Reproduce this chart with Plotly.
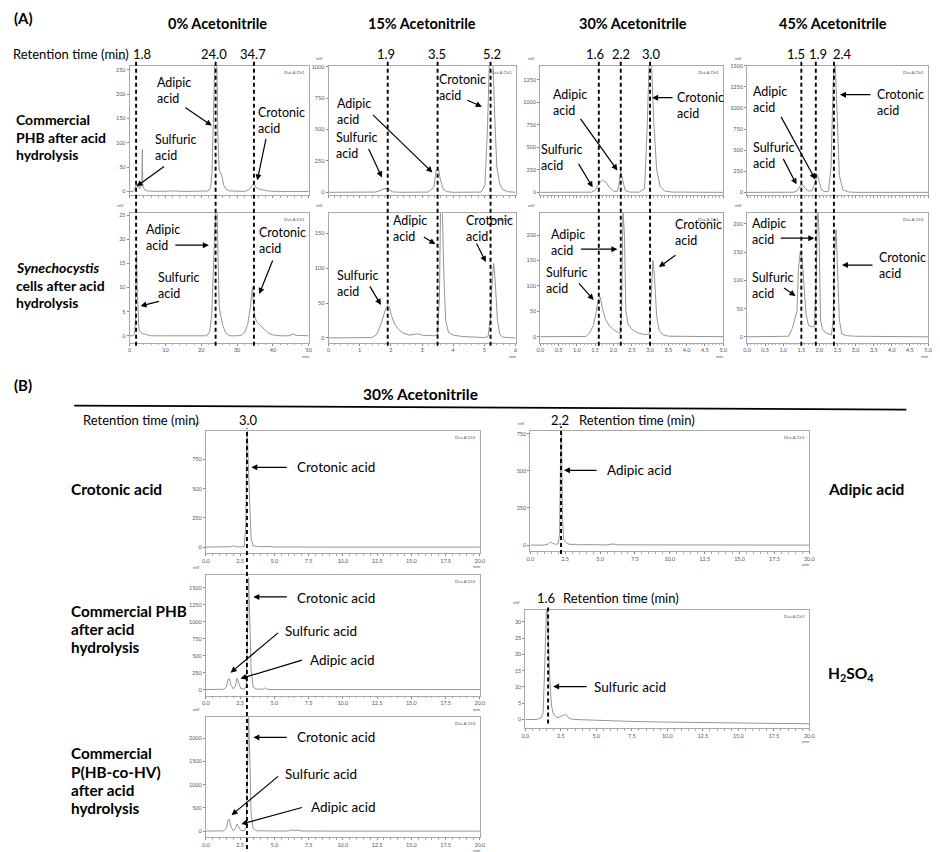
import plotly.graph_objects as go

W, H = 940, 852

# ================= DATA (retention time in min, detector signal in mV) =================
# Panel A, row 1: commercial PHB after acid hydrolysis
phb0_t = [0, 1.0, 1.4, 1.7, 1.9, 2.2, 2.5, 2.8, 3.1, 3.4, 3.55, 3.65, 3.8, 4.2, 5.0, 8, 12, 16, 20,
          22.0, 22.6, 23.0, 23.4, 23.7, 24.0, 24.3, 24.6, 25.0, 25.4, 25.8, 26.3, 27.0, 28.0, 30, 32,
          33.2, 34.0, 34.5, 34.8, 35.3, 36, 37, 38.5, 41, 45, 50]
phb0_mv = [0, 0, 4, 14, 16, 8, 12, 6, 10, 20, 86, 20, 8, 3, 1, 0, 1, 0, 0,
           1, 8, 40, 150, 300, 340, 300, 120, 45, 38, 30, 12, 4, 1, 0, 0,
           3, 10, 15, 14, 8, 5, 3, 1, 0, 0, 0]

phb15_t = [0, 0.5, 1.0, 1.5, 1.65, 1.78, 1.88, 1.95, 2.05, 2.3, 2.8, 3.2, 3.38, 3.45, 3.52, 3.58,
           3.68, 3.8, 4.0, 4.5, 4.9, 5.02, 5.1, 5.18, 5.25, 5.32, 5.4, 5.5, 5.6, 5.75, 6.0]
phb15_mv = [0, 0, 0, 2, 12, 28, 30, 18, 4, 0, 0, 2, 40, 170, 200, 110,
            25, 5, 0, 0, 2, 60, 500, 1200, 1250, 700, 200, 60, 20, 5, 0]

phb30_t = [0, 0.5, 1.0, 1.4, 1.5, 1.6, 1.7, 1.8, 1.9, 2.0, 2.1, 2.15, 2.2, 2.25, 2.32, 2.45, 2.7,
           2.85, 2.92, 2.98, 3.04, 3.1, 3.18, 3.28, 3.4, 3.6, 4.0, 5.0]
phb30_mv = [0, 0, 0, 2, 25, 95, 135, 110, 50, 15, 10, 80, 230, 150, 20, 3, 2,
            40, 700, 1500, 1450, 800, 250, 60, 15, 3, 0, 0]

phb45_t = [0, 0.5, 1.0, 1.3, 1.4, 1.47, 1.53, 1.6, 1.7, 1.8, 1.88, 1.94, 2.0, 2.06, 2.15, 2.25,
           2.32, 2.38, 2.43, 2.48, 2.55, 2.65, 2.8, 3.0, 4.0, 5.0]
phb45_mv = [0, 0, 0, 2, 25, 80, 92, 50, 15, 20, 120, 210, 120, 25, 8, 15,
            300, 1300, 1600, 900, 200, 30, 5, 0, 0, 0]

# Panel A, row 2: Synechocystis cells after acid hydrolysis
syn0_t = [0, 1.0, 1.4, 1.6, 1.8, 1.95, 2.1, 2.25, 2.4, 2.6, 3.0, 3.5, 4.5, 6, 10, 15, 20, 21.5,
          22.3, 22.9, 23.4, 23.8, 24.1, 24.4, 24.7, 25.0, 25.5, 26.0, 26.8, 28, 30, 31.2, 32.2,
          33.0, 33.7, 34.1, 34.3, 34.6, 35.0, 35.6, 36.5, 37.5, 38.5, 39.8, 42, 44.5, 45.5, 46.5, 50]
syn0_mv = [0, 0, 0.5, 3, 14, 17.3, 10, 7, 3, 1.2, 0.8, 0.5, 0.3, 0, 0, 0, 0, 0,
           0.8, 4, 14, 24, 28, 26, 14, 6, 4, 2.2, 0.6, 0, 0, 0.1, 0.8,
           2.5, 6, 9, 10.1, 6, 3.8, 2.8, 2.2, 1.4, 0.7, 0.2, 0, 0, 0.35, 0.1, 0]

syn15_t = [0, 1.0, 1.4, 1.55, 1.7, 1.82, 1.9, 1.95, 2.02, 2.12, 2.25, 2.4, 2.6, 2.75, 2.85, 3.0,
           3.2, 3.4, 3.5, 3.56, 3.6, 3.65, 3.7, 3.76, 3.85, 4.0, 4.3, 4.6, 5.0, 5.12, 5.2, 5.26,
           5.3, 5.35, 5.42, 5.5, 5.6, 6.0]
syn15_mv = [0, 0, 0.5, 5, 22, 40, 47, 45, 32, 20, 12, 7, 4, 5, 6, 4,
            3, 3, 5, 60, 200, 190, 90, 25, 8, 4, 2, 1, 0.5, 2, 30, 90,
            107, 80, 25, 5, 1, 0]

syn30_t = [0, 1.0, 1.25, 1.35, 1.45, 1.52, 1.58, 1.64, 1.7, 1.78, 1.88, 2.0, 2.1, 2.18, 2.22,
           2.26, 2.3, 2.34, 2.4, 2.5, 2.65, 2.85, 2.98, 3.03, 3.08, 3.12, 3.18, 3.25, 3.35, 3.5,
           4.0, 5.0]
syn30_mv = [0, 0, 0.5, 8, 22, 45, 72, 78, 55, 35, 22, 14, 10, 6, 40,
            250, 200, 50, 25, 15, 8, 4, 5, 80, 150, 120, 40, 12, 4, 1,
            0.5, 0]

syn45_t = [0, 1.0, 1.15, 1.25, 1.32, 1.38, 1.42, 1.47, 1.52, 1.57, 1.63, 1.7, 1.78, 1.86, 1.91,
           1.95, 1.99, 2.03, 2.08, 2.15, 2.25, 2.33, 2.38, 2.42, 2.46, 2.5, 2.55, 2.62, 2.75, 3.0,
           4.0, 5.0]
syn45_mv = [0, 0, 1, 15, 32, 45, 120, 150, 140, 90, 40, 20, 18, 18, 100,
            240, 180, 30, 15, 8, 5, 3, 30, 150, 190, 110, 30, 5, 2, 1,
            0.5, 0]

# Panel B (30% acetonitrile): standards and hydrolysed polymers
crot_std_t = [0, 1.0, 1.8, 2.0, 2.2, 2.8, 2.92, 2.98, 3.03, 3.1, 3.2, 3.3, 3.45, 4.0, 4.5, 5.0, 10, 15, 20]
crot_std_mv = [0, 0, 3, 12, 2, 2, 200, 900, 1000, 700, 300, 80, 10, 3, 6, 1, 0, 0, 0]

adip_std_t = [0, 1.0, 1.3, 1.45, 1.6, 1.8, 2.0, 2.1, 2.18, 2.24, 2.3, 2.38, 2.5, 2.7, 3.0, 3.2,
              3.5, 4.0, 4.5, 5.5, 5.9, 6.3, 7.2, 9.8, 10.5, 11.5, 15, 20]
adip_std_mv = [0, 0, 8, 20, 12, 5, 10, 80, 700, 760, 200, 40, 25, 8, 4, 6,
               2, 4, 3, 1, 8, 2, 2, 0, 2, 0, 0, 0]

phb_b_t = [0, 0.9, 1.3, 1.5, 1.62, 1.72, 1.85, 2.0, 2.15, 2.28, 2.4, 2.55, 2.8, 2.95, 3.05, 3.12,
           3.2, 3.3, 3.45, 3.7, 4.2, 4.3, 4.45, 5, 10, 20]
phb_b_mv = [0, 0, 5, 40, 150, 160, 60, 10, 50, 170, 90, 15, 5, 50, 900, 1650,
            1100, 300, 40, 5, 8, 25, 5, 0, 0, 0]

phbv_b_t = [0, 0.9, 1.3, 1.5, 1.62, 1.72, 1.85, 2.0, 2.15, 2.28, 2.4, 2.55, 2.8, 2.95, 3.05, 3.12,
            3.2, 3.3, 3.45, 3.7, 5.0, 6.0, 6.3, 6.5, 6.7, 7, 10, 20]
phbv_b_mv = [0, 0, 5, 60, 240, 250, 80, 10, 50, 150, 80, 15, 5, 80, 1400, 2450,
             1700, 400, 60, 8, 3, 2, 25, 10, 20, 2, 0, 0]

h2so4_t = [0, 0.8, 1.1, 1.25, 1.32, 1.4, 1.48, 1.55, 1.62, 1.7, 1.78, 1.85, 1.95, 2.1, 2.3, 2.6,
           2.75, 2.9, 3.1, 3.5, 5.0, 7.5, 10, 12.5, 15, 17.5, 20]
h2so4_mv = [0, 0, 0.5, 2, 11, 22, 33, 34, 20, 14, 8, 4, 2, 1, 0.5, 1.2,
            1.5, 1.3, 0.3, 0, -0.3, -0.6, -0.8, -1.0, -1.1, -1.2, -1.3]

# Titles and retention times
acn_titles = ["0% Acetonitrile", "15% Acetonitrile", "30% Acetonitrile", "45% Acetonitrile"]
rt_A = [[1.8, 24.0, 34.7], [1.9, 3.5, 5.2], [1.6, 2.2, 3.0], [1.5, 1.9, 2.4]]
rt_B_crot, rt_B_adip, rt_B_sulf = 3.0, 2.2, 1.6

# ================= LAYOUT / STYLE =================
FONT = "Lato"
def px(x): return x / W
def py(y): return 1 - y / H

colsA = [(127, 308), (328, 517), (542, 727), (751, 934)]
rowA_top, rowA_bot = (63, 193), (211, 341)

panels = [
    dict(t=phb0_t, v=phb0_mv, box=(*colsA[0], *rowA_top), xr=[0, 50], yr=[-8, 258], xd=10, yd=50, xl=False, fmt=""),
    dict(t=phb15_t, v=phb15_mv, box=(*colsA[1], *rowA_top), xr=[0, 6], yr=[-24, 1008], xd=1, yd=250, xl=False, fmt=""),
    dict(t=phb30_t, v=phb30_mv, box=(*colsA[2], *rowA_top), xr=[0, 5], yr=[-33, 1404], xd=0.5, yd=250, xl=False, fmt=".1f"),
    dict(t=phb45_t, v=phb45_mv, box=(*colsA[3], *rowA_top), xr=[0, 5], yr=[-35, 1500], xd=0.5, yd=250, xl=False, fmt=".1f"),
    dict(t=syn0_t, v=syn0_mv, box=(*colsA[0], *rowA_bot), xr=[0, 50], yr=[-1.45, 25.4], xd=10, yd=5, xl=True, fmt=""),
    dict(t=syn15_t, v=syn15_mv, box=(*colsA[1], *rowA_bot), xr=[0, 6], yr=[-7, 179], xd=1, yd=50, xl=True, fmt=""),
    dict(t=syn30_t, v=syn30_mv, box=(*colsA[2], *rowA_bot), xr=[0, 5], yr=[-12, 243], xd=0.5, yd=50, xl=True, fmt=".1f"),
    dict(t=syn45_t, v=syn45_mv, box=(*colsA[3], *rowA_bot), xr=[0, 5], yr=[-10.6, 219], xd=0.5, yd=50, xl=True, fmt=".1f"),
    dict(t=crot_std_t, v=crot_std_mv, box=(204, 481, 430, 552), xr=[0, 20], yr=[-51, 989], xd=2.5, yd=250, xl=True, fmt=".1f"),
    dict(t=phb_b_t, v=phb_b_mv, box=(204, 481, 574, 695), xr=[0, 20], yr=[-88, 1691], xd=2.5, yd=250, xl=True, fmt=".1f"),
    dict(t=phbv_b_t, v=phbv_b_mv, box=(204, 481, 717, 837), xr=[0, 20], yr=[-128, 2447], xd=2.5, yd=500, xl=True, fmt=".1f"),
    dict(t=adip_std_t, v=adip_std_mv, box=(532, 814, 430, 550), xr=[0, 20], yr=[-40, 764], xd=2.5, yd=250, xl=True, fmt=".1f"),
    dict(t=h2so4_t, v=h2so4_mv, box=(527, 814, 609, 728), xr=[0, 20], yr=[-2.75, 33.7], xd=2.5, yd=5, xl=True, fmt=".1f"),
]

fig = go.Figure()
annotations = []
shapes = []
tickfont = dict(family=FONT, size=5.5, color="#555")

for i, p in enumerate(panels, start=1):
    sfx = "" if i == 1 else str(i)
    fig.add_trace(go.Scatter(x=p["t"], y=p["v"], mode="lines",
                             line=dict(color="#959595", width=1),
                             xaxis="x" + sfx, yaxis="y" + sfx,
                             showlegend=False, hoverinfo="skip"))
    l, r, tp, bt = p["box"]
    common = dict(showline=True, mirror=True, linecolor="#a8a8a8", linewidth=1,
                  ticks="outside", ticklen=2, tickcolor="#888", showgrid=False,
                  zeroline=False, tickfont=tickfont, tick0=0, fixedrange=True)
    fig.update_layout(**{
        "xaxis" + sfx: dict(domain=[px(l), px(r)], range=p["xr"], anchor="y" + sfx,
                            dtick=p["xd"], showticklabels=p["xl"], tickformat=p["fmt"],
                            minor=dict(ticks="outside", ticklen=1.5, tickcolor="#aaa"),
                            **common),
        "yaxis" + sfx: dict(domain=[py(bt), py(tp)], range=p["yr"], anchor="x" + sfx,
                            dtick=p["yd"], **common),
    })
    small = dict(family=FONT, size=4.5, color="#555")
    annotations.append(dict(x=px(r - 2), y=py(tp + 2), xref="paper", yref="paper", text="Det.A Ch1",
                            showarrow=False, xanchor="right", yanchor="top", font=small))
    annotations.append(dict(x=px(l - 9), y=py(tp - 3), xref="paper", yref="paper", text="mV",
                            showarrow=False, xanchor="center", yanchor="bottom", font=small))
    if p["xl"]:
        annotations.append(dict(x=px(r - 3), y=py(bt + 9), xref="paper", yref="paper", text="min",
                                showarrow=False, xanchor="center", yanchor="top", font=small))

# ---- dashed retention-time lines ----
dash = dict(color="black", width=1.9, dash="4px,3px")
for c in range(4):
    for t in rt_A[c]:
        shapes.append(dict(type="line", xref="x" + str(5 + c), yref="paper", x0=t, x1=t,
                           y0=py(344), y1=py(59), line=dash))
shapes.append(dict(type="line", xref="x9", yref="paper", x0=rt_B_crot, x1=rt_B_crot,
                   y0=py(849), y1=py(427), line=dash))
shapes.append(dict(type="line", xref="x12", yref="paper", x0=rt_B_adip, x1=rt_B_adip,
                   y0=py(553), y1=py(425), line=dash))
shapes.append(dict(type="line", xref="x13", yref="paper", x0=rt_B_sulf, x1=rt_B_sulf,
                   y0=py(723), y1=py(605), line=dash))
# separator line in panel B
shapes.append(dict(type="line", xref="paper", yref="paper", x0=px(71), x1=px(912),
                   y0=py(404), y1=py(408), line=dict(color="black", width=1.8)))

# ---- text helpers ----
def text(x, y, s, size=13, bold=False, xanchor="left", yanchor="middle"):
    if bold:
        s = "<b>" + s.replace("<br>", "</b><br><b>") + "</b>"
    annotations.append(dict(x=px(x), y=py(y), xref="paper", yref="paper", text=s, showarrow=False,
                            xanchor=xanchor, yanchor=yanchor, align="left",
                            font=dict(family=FONT, size=size, color="black")))

def lines(x, y_first, step, rows, size, bold=True):
    for k, s in enumerate(rows):
        text(x, y_first + k * step, s, size=size, bold=bold)

def arrow(tail, head):
    annotations.append(dict(x=px(head[0]), y=py(head[1]), xref="paper", yref="paper",
                            ax=tail[0] - head[0], ay=tail[1] - head[1], axref="pixel", ayref="pixel",
                            text="", showarrow=True, arrowhead=2, arrowsize=1, arrowwidth=1.2,
                            arrowcolor="black", standoff=0, startstandoff=0))

# Panel labels and titles
text(8, 15, "(A)", size=15, bold=True)
text(8, 383, "(B)", size=15, bold=True)
for title, cx in zip(acn_titles, [216, 422, 636, 838]):
    text(cx, 21, title, size=14.5, bold=True, xanchor="center")
text(421, 392, "30% Acetonitrile", size=15.5, bold=True, xanchor="center")

# Retention time headers, panel A
RS = 13
text(7, 51, "Retention time (min)", size=RS)
rt_label_x = [[139, 212, 252], [386, 438, 493], [597, 624, 654], [801, 823, 848]]
for c in range(4):
    for t, x in zip(rt_A[c], rt_label_x[c]):
        text(x, 51, f"{t:.1f}", size=RS, xanchor="center")

# Retention time headers, panel B
text(78, 418, "Retention time (min)", size=RS)
text(247, 418, f"{rt_B_crot:.1f}", size=RS, xanchor="center")
text(562, 418, f"{rt_B_adip:.1f}", size=RS, xanchor="center")
text(579, 418, "Retention time (min)", size=RS)
text(548, 597, f"{rt_B_sulf:.1f}", size=RS, xanchor="center")
text(563, 597, "Retention time (min)", size=RS)

# Row labels
lines(10, 117, 17.5, ["Commercial", "PHB after acid", "hydrolysis"], 14)
lines(10, 265, 18, ["<i>Synechocystis</i>", "cells after acid", "hydrolysis"], 14)
text(66, 488, "Crotonic acid", size=15.5, bold=True)
text(831, 488, "Adipic acid", size=15.5, bold=True)
lines(66, 610, 18.3, ["Commercial PHB", "after acid", "hydrolysis"], 15.3)
lines(66, 753, 18.3, ["Commercial", "P(HB-co-HV)", "after acid", "hydrolysis"], 15.3)
text(831, 673, "H<sub>2</sub>SO<sub>4</sub>", size=15.5, bold=True)

# Peak annotations, panel A (two-line labels)
SA = 12.5
peak_notes_A = [
    # row 1
    ("Adipic<br>acid", 153, 88, (182, 104), (210, 123)),
    ("Sulfuric<br>acid", 151, 145, (163, 163), (134, 184)),
    ("Crotonic<br>acid", 255, 118, (265, 135), (256, 178)),
    ("Crotonic<br>acid", 438, 85, (467, 97), (483, 104)),
    ("Adipic<br>acid", 335, 109, (372, 111), (433, 170)),
    ("Sulfuric<br>acid", 334, 143, (368, 145), (382, 175)),
    ("Adipic<br>acid", 553, 100, (582, 115), (620, 168)),
    ("Sulfuric<br>acid", 541, 155, (580, 160), (595, 185)),
    ("Crotonic<br>acid", 678, 103, (677, 95), (655, 95)),
    ("Adipic<br>acid", 755, 97, (785, 113), (820, 177)),
    ("Sulfuric<br>acid", 755, 153, (787, 155), (801, 182)),
    ("Crotonic<br>acid", 880, 100, (877, 92), (845, 92)),
    # row 2
    ("Adipic<br>acid", 142, 235, (172, 243), (207, 243)),
    ("Sulfuric<br>acid", 154, 283, (158, 299), (138, 304)),
    ("Crotonic<br>acid", 256, 238, (272, 257), (258, 292)),
    ("Adipic<br>acid", 391, 226, (423, 234), (436, 242)),
    ("Crotonic<br>acid", 465, 226, (477, 240), (487, 260)),
    ("Sulfuric<br>acid", 335, 281, (369, 283), (381, 303)),
    ("Adipic<br>acid", 551, 240, (582, 247), (620, 247)),
    ("Crotonic<br>acid", 676, 230, (680, 252), (662, 265)),
    ("Sulfuric<br>acid", 546, 278, (580, 280), (596, 298)),
    ("Adipic<br>acid", 754, 229, (784, 236), (819, 236)),
    ("Crotonic<br>acid", 882, 263, (879, 263), (847, 263)),
    ("Sulfuric<br>acid", 754, 284, (787, 285), (800, 294)),
]
for s, x, y, tail, head in peak_notes_A:
    text(x, y, s, size=SA)
    arrow(tail, head)

# Peak annotations, panel B
peak_notes_B = [
    ("Crotonic acid", 294, 466, (287, 466), (250, 466)),
    ("Crotonic acid", 294, 597, (287, 596), (252, 596)),
    ("Sulfuric acid", 282, 630, (278, 631), (229, 672)),
    ("Adipic acid", 307, 659, (302, 659), (239, 678)),
    ("Crotonic acid", 294, 737, (287, 737), (252, 737)),
    ("Sulfuric acid", 282, 774, (278, 775), (230, 815)),
    ("Adipic acid", 308, 807, (302, 807), (240, 824)),
    ("Adipic acid", 607, 469, (600, 469), (566, 469)),
    ("Sulfuric acid", 594, 686, (590, 686), (555, 686)),
]
for s, x, y, tail, head in peak_notes_B:
    text(x, y, s, size=13.5)
    arrow(tail, head)

fig.update_layout(width=W, height=H, margin=dict(l=0, r=0, t=0, b=0),
                  paper_bgcolor="white", plot_bgcolor="white",
                  annotations=annotations, shapes=shapes,
                  font=dict(family=FONT))
fig.write_html("out.html", config={"displayModeBar": False},
               post_script="document.body.style.margin='0px';document.body.style.overflow='hidden';")
